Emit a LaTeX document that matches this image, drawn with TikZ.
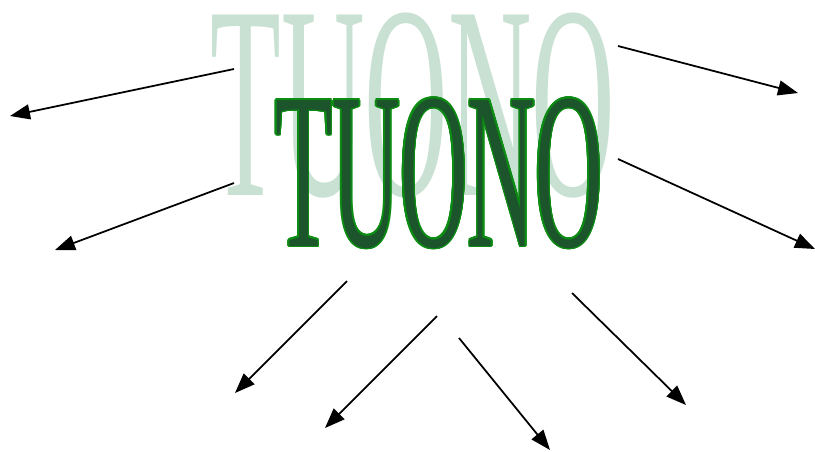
\documentclass[tikz,border=0pt]{standalone}
\usepackage{fontspec}
\setmainfont{Liberation Serif}
\usepackage{graphicx}
\usepackage{contour}
\usetikzlibrary{arrows.meta}
\definecolor{palegreen}{RGB}{200,225,211}
\definecolor{marble}{RGB}{28,84,44}
\definecolor{rim}{RGB}{12,140,18}
\contourlength{0.9pt}
\contournumber{16}
\tikzset{
  arr/.style={line width=1pt, -{Triangle[length=0.4cm,width=0.3cm]}},
  word/.style={inner sep=0pt, anchor=base west}
}
\begin{document}
\begin{tikzpicture}[x=0.02cm,y=-0.02cm]
        \useasboundingbox (0,0) rectangle (815,451);

        % Pale title behind
        \node[word, text=palegreen] (shadow) at (210,195)
            {\resizebox{8.1cm}{3.65cm}{TUONO}};
        % Dark title in front
        \node[word] (title) at (275,246)
            {\contour{rim}{\color{marble}\resizebox{6.55cm}{2.95cm}{TUONO}}};

        % Arrows
        \foreach \n/\sx/\sy/\ex/\ey in {
            a/234/69/10/116, b/234/183/55/250,
            c/618/46/798/93, d/618/159/815/249,
            e/347/281/235/393, f/437/316/325/428,
            g/459/338/550/450, h/572/293/686/405} {
            \coordinate (\n-from) at (\sx,\sy);
            \coordinate (\n-to) at (\ex,\ey);
            \draw[arr] (\n-from) -- (\n-to);
        }
\end{tikzpicture}
\end{document}
